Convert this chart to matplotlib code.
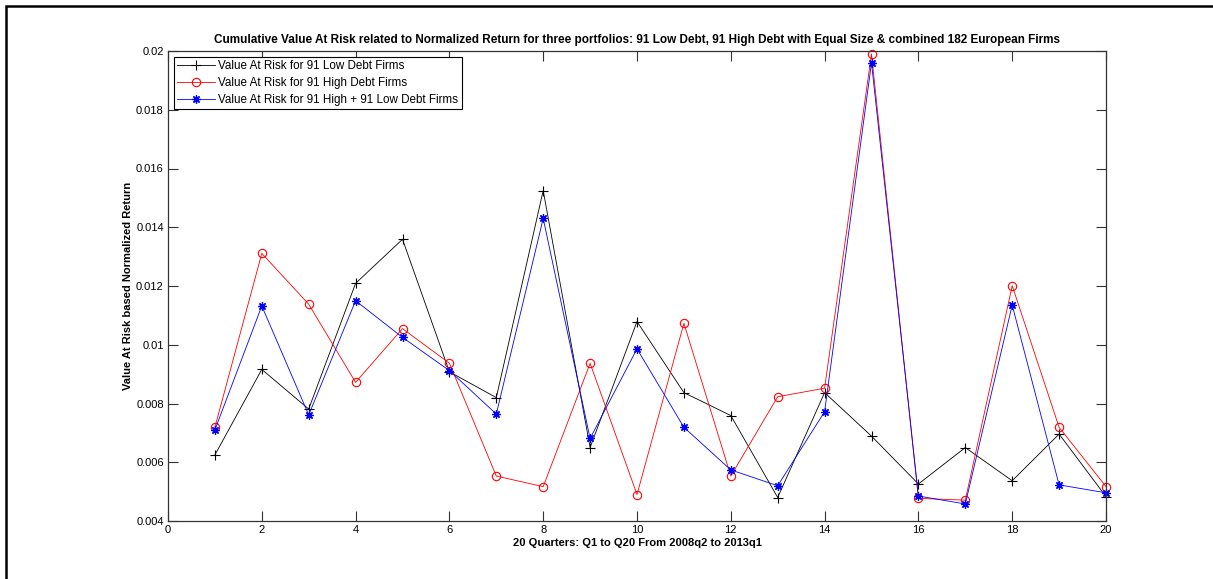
import matplotlib
matplotlib.use('Agg')
import matplotlib.pyplot as plt
from matplotlib.patches import Rectangle

plt.rcParams.update({
    'font.family': ['Liberation Sans', 'DejaVu Sans'],
    'font.size': 8,
    'lines.linewidth': 0.6,
    'axes.linewidth': 0.9,
    'axes.edgecolor': '#333333',
    'xtick.direction': 'in',
    'ytick.direction': 'in',
    'xtick.major.size': 7,
    'ytick.major.size': 7,
    'xtick.major.width': 0.8,
    'ytick.major.width': 0.8,
    'xtick.color': '#333333',
    'ytick.color': '#333333',
    'xtick.labelcolor': 'black',
    'ytick.labelcolor': 'black',
})

quarters = list(range(1, 21))
var_low = [0.00625, 0.00916, 0.00781, 0.01209, 0.01359, 0.00908, 0.0082, 0.01525,
           0.0065, 0.01079, 0.00837, 0.00759, 0.0048, 0.00837, 0.00689, 0.00526,
           0.0065, 0.00537, 0.00696, 0.00483]
var_high = [0.00719, 0.01311, 0.01138, 0.00872, 0.01055, 0.00937, 0.00553, 0.00517,
            0.00937, 0.0049, 0.01073, 0.00553, 0.00823, 0.00852, 0.0199, 0.00477,
            0.00471, 0.01201, 0.00719, 0.00517]
var_both = [0.0071, 0.01132, 0.00761, 0.0115, 0.01025, 0.00912, 0.00764, 0.0143,
            0.00681, 0.00986, 0.00719, 0.00574, 0.0052, 0.00772, 0.0196, 0.00485,
            0.00458, 0.01135, 0.00523, 0.00496]

labels = ['Value At Risk for 91 Low Debt Firms',
          'Value At Risk for 91 High Debt Firms',
          'Value At Risk for 91 High + 91 Low Debt Firms']
title = ('Cumulative Value At Risk related to Normalized Return for three portfolios: '
         '91 Low Debt, 91 High Debt with Equal Size & combined 182 European Firms')

fig = plt.figure(figsize=(12.13, 5.79), dpi=100)
ax = fig.add_axes([168/1213, 1 - 521/579, (1106-168)/1213, (521-51)/579])

ax.plot(quarters, var_low, color='black', marker='+', ms=7, mew=0.8,
        clip_on=False, label=labels[0])
ax.plot(quarters, var_high, color='red', marker='o', ms=6, mfc='none', mew=0.8,
        clip_on=False, label=labels[1])
ax.plot(quarters, var_both, color='blue', marker=(8, 2, 0), ms=6, mew=0.9,
        clip_on=False, label=labels[2])

ax.set_xlim(0, 20)
ax.set_ylim(0.004, 0.02)
ax.set_xticks(range(0, 21, 2))
ax.set_yticks([0.004, 0.006, 0.008, 0.01, 0.012, 0.014, 0.016, 0.018, 0.02])
ax.set_yticklabels(['0.004', '0.006', '0.008', '0.01', '0.012', '0.014', '0.016', '0.018', '0.02'])
ax.tick_params(top=True, right=True, pad=3)

ax.set_title(title, fontsize=8.5, fontweight='bold', pad=6)
ax.set_xlabel('20 Quarters: Q1 to Q20 From 2008q2 to 2013q1', fontweight='bold', labelpad=2)
ax.set_ylabel('Value At Risk based Normalized Return', fontweight='bold', labelpad=2)

leg = ax.legend(loc='upper left', fontsize=8.4, fancybox=False, framealpha=1,
                edgecolor='black', borderaxespad=0.5, handlelength=3.2,
                handletextpad=0.3, labelspacing=0.4, borderpad=0.3)
leg.get_frame().set_linewidth(0.8)
leg.set_zorder(5)

# outer frame (right and bottom edges fall outside the image)
fig.add_artist(Rectangle((6/1213, -0.1), 1.2, 1.1 - 6/579, transform=fig.transFigure,
                         fill=False, edgecolor='black', lw=1.8))

fig.savefig('out.png', dpi=100)
